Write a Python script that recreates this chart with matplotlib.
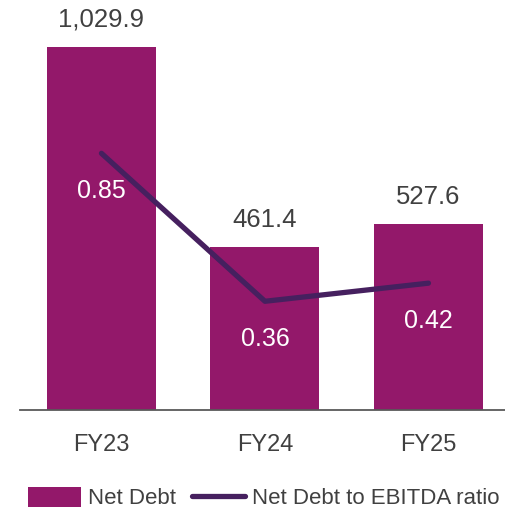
import matplotlib
matplotlib.use("Agg")
import matplotlib.pyplot as plt
from matplotlib.patches import Patch
from matplotlib.lines import Line2D

categories = ["FY23", "FY24", "FY25"]
net_debt = [1029.9, 461.4, 527.6]
ratio = [0.85, 0.36, 0.42]
debt_labels = ["1,029.9", "461.4", "527.6"]
ratio_labels = ["0.85", "0.36", "0.42"]

BAR = "#93186A"
LINE = "#46205F"
TXT = "#404040"

plt.rcParams['font.family'] = ['Liberation Sans', 'DejaVu Sans']

W, H = 505, 508
fig = plt.figure(figsize=(W/100, H/100), dpi=100)
left, right, top, bottom = 20, 505, 20, 410
ax = fig.add_axes([left/W, 1-bottom/H, (right-left)/W, (bottom-top)/H])

x = list(range(len(categories)))
ax.bar(x, net_debt, width=0.667, color=BAR, zorder=2)
ax.set_xlim(-0.498, 2.468)
ax.set_ylim(0, 390/0.3525)
for s in ["top", "right", "left"]:
    ax.spines[s].set_visible(False)
ax.spines["bottom"].set_color("#595959")
ax.spines["bottom"].set_linewidth(1.3)
ax.set_yticks([])
ax.set_xticks(x)
ax.set_xticklabels(categories, fontsize=17, color=TXT)
ax.tick_params(axis='x', length=0, pad=17)

for xi, v, lab in zip(x, net_debt, debt_labels):
    ax.annotate(lab, (xi, v), xytext=(0, 15), textcoords="offset pixels",
                ha="center", va="bottom", fontsize=18.5, color=TXT)

ax2 = ax.twinx()
ax2.set_ylim(0, 390/302)
ax2.set_yticks([])
for s in ["top", "right", "left", "bottom"]:
    ax2.spines[s].set_visible(False)
ax2.plot(x, ratio, color=LINE, linewidth=3.8, solid_capstyle="round", zorder=3)
for xi, v, lab in zip(x, ratio, ratio_labels):
    ax2.annotate(lab, (xi, v), xytext=(0, -38), textcoords="offset pixels",
                 ha="center", va="center", fontsize=18, color="white")

handles = [Patch(facecolor=BAR, edgecolor="none"),
           Line2D([0], [0], color=LINE, linewidth=3.8, solid_capstyle="round")]
fig.legend(handles, ["Net Debt", "Net Debt to EBITDA ratio"],
           loc="center", bbox_to_anchor=(0.522, 10/H), ncol=2, frameon=False,
           fontsize=16, labelcolor=TXT, handlelength=2.4, handleheight=1.0,
           handletextpad=0.3, columnspacing=0.7)

fig.savefig("out.png", dpi=100)
